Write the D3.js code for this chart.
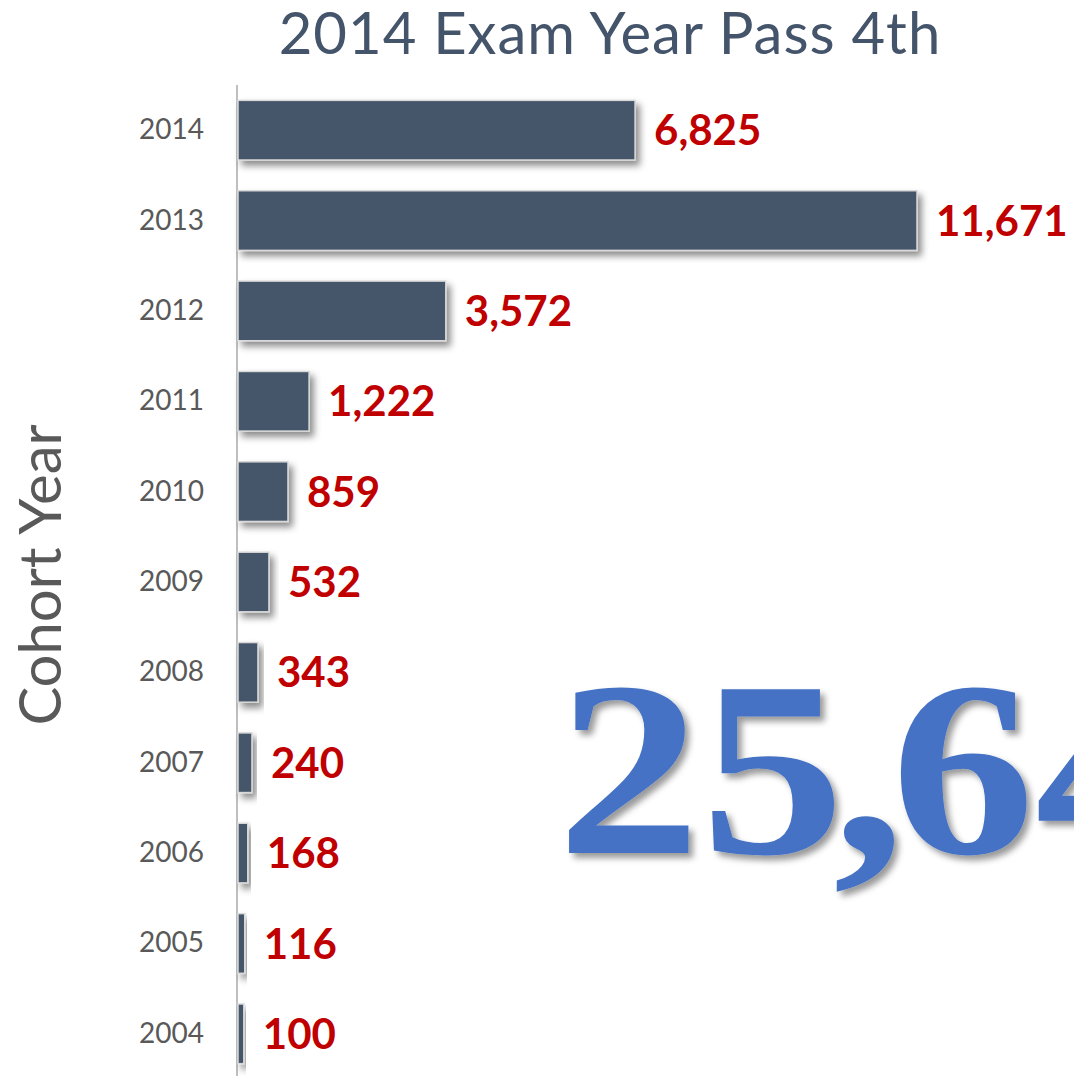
<!DOCTYPE html>
<html><head><meta charset="utf-8">
<script src="https://cdn.jsdelivr.net/npm/d3@7"></script>
<style>
html,body{margin:0;padding:0;background:#fff;overflow:hidden}
</style></head>
<body>
<svg id="chart" width="1074" height="1076"></svg>
<script>
const cohortYears = ["2014","2013","2012","2011","2010","2009","2008","2007","2006","2005","2004"];
const passCounts = [6825,11671,3572,1222,859,532,343,240,168,116,100];
const titleText = "2014 Exam Year Pass 4th";
const yAxisTitle = "Cohort Year";
const totalText = "25,648";

const svg = d3.select("#chart");
const defs = svg.append("defs");
const f = defs.append("filter").attr("id","shadow").attr("x","-20%").attr("y","-30%").attr("width","150%").attr("height","180%");
f.append("feDropShadow").attr("dx",4).attr("dy",5).attr("stdDeviation",3.5).attr("flood-color","#000").attr("flood-opacity",0.45);
const f2 = defs.append("filter").attr("id","tshadow").attr("x","-10%").attr("y","-10%").attr("width","130%").attr("height","130%");
f2.append("feDropShadow").attr("dx",4).attr("dy",5).attr("stdDeviation",3).attr("flood-color","#000").attr("flood-opacity",0.4);

const x = d3.scaleLinear().domain([0, 11671]).range([238, 917]);
const y = d3.scaleBand().domain(cohortYears).range([85, 1079]).paddingInner(0.34).paddingOuter(0.17);

// title
svg.append("text").attr("x",610).attr("y",54).attr("text-anchor","middle")
  .attr("font-family","Lato, 'Noto Sans', sans-serif").attr("font-size",58).attr("letter-spacing",1)
  .attr("fill","#44546a")
  .text(titleText);

// y-axis title
svg.append("text").attr("transform","translate(61,575) rotate(-90)").attr("text-anchor","middle")
  .attr("font-family","Lato, 'Noto Sans', sans-serif").attr("font-size",58).attr("fill","#595959")
  .text(yAxisTitle);

// big total (split at comma to tighten the comma spacing)
const totalParts = totalText.split(",");
const big = svg.append("text").attr("transform","translate(557,853) scale(1.15,1)")
  .attr("font-family","'Liberation Serif', serif").attr("font-weight","bold").attr("font-size",250)
  .attr("fill","#4472c4").attr("filter","url(#tshadow)");
big.append("tspan").text(totalParts[0]);
big.append("tspan").attr("dx",-10).text(",");
big.append("tspan").attr("dx",-12).text(totalParts[1]);

// axis
const yAxis = d3.axisLeft(y).tickSize(0).tickPadding(33);
const gAxis = svg.append("g").attr("transform","translate(237,0)").call(yAxis);
gAxis.select(".domain").remove();
gAxis.selectAll("text").attr("font-family","Lato, 'Noto Sans', sans-serif").attr("font-size",28).attr("fill","#595959");
svg.append("line").attr("x1",237).attr("x2",237).attr("y1",85).attr("y2",1076).attr("stroke","#bfbfbf").attr("stroke-width",2);

// bars
svg.append("g").selectAll("rect").data(passCounts).join("rect")
  .attr("x", x(0)).attr("y",(d,i)=>y(cohortYears[i]))
  .attr("width", d=>x(d)-x(0)).attr("height", y.bandwidth())
  .attr("fill","#44546a").attr("stroke","#d9d9d9").attr("stroke-width",1.5)
  .attr("filter","url(#shadow)");

// value labels
svg.append("g").selectAll("text").data(passCounts).join("text")
  .attr("x", d=>x(d)+19).attr("y",(d,i)=>y(cohortYears[i])+y.bandwidth()/2)
  .attr("dy","0.36em")
  .attr("font-family","Lato, 'Noto Sans', sans-serif").attr("font-weight","bold").attr("font-size",42)
  .attr("fill","#c00000")
  .text(d=>d3.format(",")(d));
</script>
</body></html>
